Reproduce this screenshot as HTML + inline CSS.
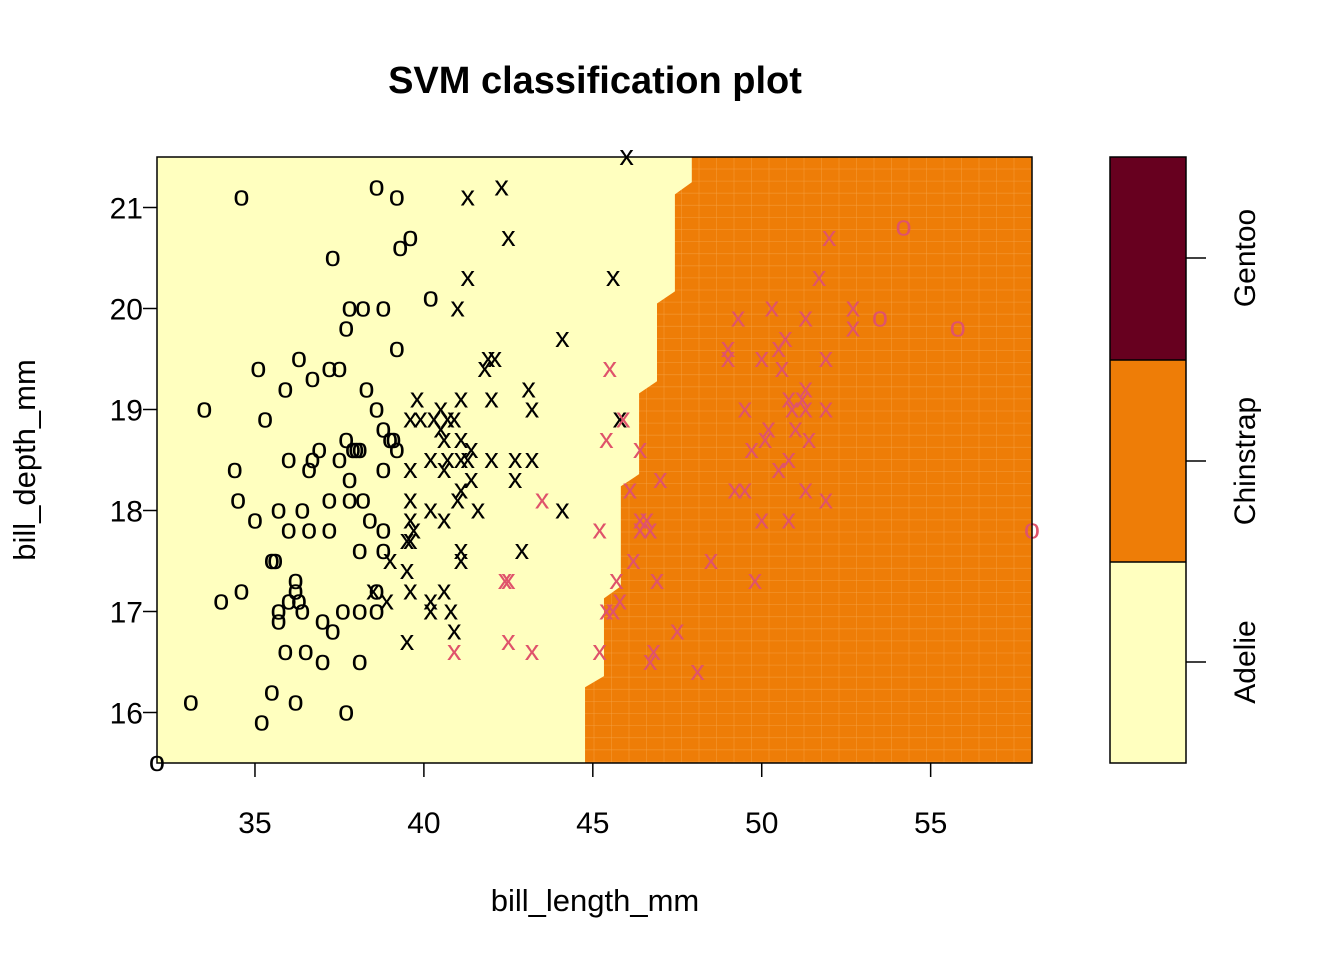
<!DOCTYPE html>
<html><head><meta charset="utf-8"><style>
body{margin:0;background:#fff}
svg{display:block;font-family:"Liberation Sans",Arial,sans-serif}
</style></head><body>
<svg id="chart" width="1344" height="960" viewBox="0 0 1344 960" xmlns="http://www.w3.org/2000/svg">
<text x="595" y="93" text-anchor="middle" font-size="38" font-weight="bold">SVM classification plot</text>
<g id="plot"></g>
<text x="595" y="911" text-anchor="middle" font-size="31">bill_length_mm</text>
<text transform="translate(35,460) rotate(-90)" text-anchor="middle" font-size="31">bill_depth_mm</text>
<g>
<rect x="1110" y="157" width="76" height="203" fill="#67001F"/>
<rect x="1110" y="360" width="76" height="202" fill="#EE7D07"/>
<rect x="1110" y="562" width="76" height="201" fill="#FFFFBF"/>
<rect x="1110" y="157" width="76" height="606" fill="none" stroke="#000" stroke-width="1.5"/>
<line x1="1110" y1="360" x2="1186" y2="360" stroke="#000" stroke-width="1.5"/>
<line x1="1110" y1="562" x2="1186" y2="562" stroke="#000" stroke-width="1.5"/>
<g stroke="#000" stroke-width="1.5"><line x1="1186" y1="258" x2="1206" y2="258"/><line x1="1186" y1="461" x2="1206" y2="461"/><line x1="1186" y1="662" x2="1206" y2="662"/></g>
<g font-size="30" text-anchor="middle">
<text transform="translate(1255,258) rotate(-90)">Gentoo</text>
<text transform="translate(1255,461) rotate(-90)">Chinstrap</text>
<text transform="translate(1255,662) rotate(-90)">Adelie</text>
</g></g>
</svg>
<script>
const xTicks=[35,40,45,50,55];
const yTicks=[16,17,18,19,20,21];
// decision boundary (Adelie | Chinstrap), top to bottom
const boundaryY=[21.5,21.25,21.13,20.17,20.05,19.28,19.16,18.36,18.24,17.25,17.13,16.36,16.25,15.5];
const boundaryX=[47.93,47.93,47.43,47.43,46.9,46.9,46.37,46.37,45.83,45.83,45.33,45.33,44.77,44.77];
const adelieOX=[34.6,38.6,39.2,39.6,39.3,37.3,40.2,37.8,38.2,38.8,37.7,39.2,36.3,35.1,37.5,35.9,36.7,37.2,38.3,33.5,35.3,38.6,38.8,39.0,39.1,37.7,36.9,37.9,38.0,38.1,37.5,39.2,36.7,36.0,34.4,36.6,38.8,37.8,34.5,37.2,37.8,38.2,35.7,36.4,35.0,36.0,36.6,37.2,38.4,38.8,38.1,38.8,35.5,35.6,36.2,36.2,34.6,34.0,36.0,36.3,35.7,35.7,36.4,37.0,37.6,38.1,38.6,37.3,35.9,36.5,37.0,38.1,35.5,36.2,33.1,37.7,35.2,32.1,38.6];
const adelieOY=[21.1,21.2,21.1,20.7,20.6,20.5,20.1,20.0,20.0,20.0,19.8,19.6,19.5,19.4,19.4,19.2,19.3,19.4,19.2,19.0,18.9,19.0,18.8,18.7,18.7,18.7,18.6,18.6,18.6,18.6,18.5,18.6,18.5,18.5,18.4,18.4,18.4,18.3,18.1,18.1,18.1,18.1,18.0,18.0,17.9,17.8,17.8,17.8,17.9,17.8,17.6,17.6,17.5,17.5,17.3,17.2,17.2,17.1,17.1,17.1,17.0,16.9,17.0,16.9,17.0,17.0,17.0,16.8,16.6,16.6,16.5,16.5,16.2,16.1,16.1,16.0,15.9,15.5,17.2];
const adelieXX=[46.0,42.3,41.3,42.5,41.3,45.6,41.0,44.1,42.1,41.9,41.8,39.8,41.1,43.1,42.0,43.2,39.6,39.9,40.3,40.5,40.7,40.9,40.5,40.6,41.1,41.4,40.2,40.7,41.1,41.3,42.0,42.7,43.2,39.6,40.6,41.4,42.7,39.6,41.1,41.0,40.2,44.1,41.6,39.6,40.6,39.7,39.5,39.6,42.9,41.1,41.1,39.0,39.5,38.5,38.9,40.6,40.2,39.6,40.2,40.8,40.9,39.5,45.8];
const adelieXY=[21.5,21.2,21.1,20.7,20.3,20.3,20.0,19.7,19.5,19.5,19.4,19.1,19.1,19.2,19.1,19.0,18.9,18.9,18.9,19.0,18.9,18.9,18.8,18.7,18.7,18.6,18.5,18.5,18.5,18.5,18.5,18.5,18.5,18.4,18.4,18.3,18.3,18.1,18.2,18.1,18.0,18.0,18.0,17.9,17.9,17.8,17.7,17.7,17.6,17.6,17.5,17.5,17.4,17.2,17.1,17.2,17.1,17.2,17.0,17.0,16.8,16.7,18.9];
const chinXX=[45.5,45.4,45.9,46.4,43.5,46.1,45.2,46.4,46.6,46.7,46.4,46.2,45.7,45.4,45.6,45.8,46.9,48.5,49.8,47.5,46.8,46.7,48.1,45.2,43.2,42.5,40.9,42.4,42.5,52.0,51.7,50.3,51.3,52.7,52.7,49.3,49.0,49.0,50.0,50.5,50.7,51.9,50.6,51.3,51.2,50.8,50.9,49.5,51.3,51.9,50.2,51.0,50.1,51.4,49.7,50.8,50.5,49.2,49.5,51.3,51.9,50.0,50.8,47.0];
const chinXY=[19.4,18.7,18.9,18.6,18.1,18.2,17.8,17.9,17.9,17.8,17.8,17.5,17.3,17.0,17.0,17.1,17.3,17.5,17.3,16.8,16.6,16.5,16.4,16.6,16.6,16.7,16.6,17.3,17.3,20.7,20.3,20.0,19.9,20.0,19.8,19.9,19.6,19.5,19.5,19.6,19.7,19.5,19.4,19.2,19.1,19.1,19.0,19.0,19.0,19.0,18.8,18.8,18.7,18.7,18.6,18.5,18.4,18.2,18.2,18.2,18.1,17.9,17.9,18.3];
const chinOX=[54.2,53.5,55.8,58.0];
const chinOY=[20.8,19.9,19.8,17.8];

const NS='http://www.w3.org/2000/svg';
const L=157,R=1032,T=157,B=763,xMin=32.1,xMax=58.0,yMin=15.5,yMax=21.5;
const sx=v=>L+(v-xMin)/(xMax-xMin)*(R-L);
const sy=v=>B-(v-yMin)/(yMax-yMin)*(B-T);
const g=document.getElementById('plot');
function mk(t,a){const e=document.createElementNS(NS,t);for(const k in a)e.setAttribute(k,a[k]);g.appendChild(e);return e;}

const bg=mk('rect',{x:L,y:T,width:R-L,height:B-T,fill:'#EE7D07'});


for(let x=L+17;x<R;x+=17.5){mk('line',{x1:x,y1:T,x2:x,y2:B,stroke:'#F6A54A','stroke-width':0.8,opacity:0.5});}
for(let y=T+12;y<B;y+=12.1){mk('line',{x1:L,y1:y,x2:R,y2:y,stroke:'#F6A54A','stroke-width':0.8,opacity:0.5});}
let pts=`${L},${T} `+boundaryY.map((y,i)=>`${sx(boundaryX[i])},${sy(y)}`).join(' ')+` ${L},${B}`;
const ad=mk('polygon',{points:pts,fill:'#FFFFBF'});



function sym(xs,ys,ch,col,name){xs.forEach((v,i)=>{const t=mk('text',{x:sx(v),y:sy(ys[i])+8,'text-anchor':'middle','font-size':29,fill:col});t.textContent=ch;

});}
sym(adelieOX,adelieOY,'o','#000','adelie-point');
sym(adelieXX,adelieXY,'x','#000','adelie-support-vector');
sym(chinXX,chinXY,'x','#DF536B','chinstrap-support-vector');
sym(chinOX,chinOY,'o','#DF536B','chinstrap-point');

mk('rect',{x:L,y:T,width:R-L,height:B-T,fill:'none',stroke:'#000','stroke-width':1.5});
xTicks.forEach(v=>{mk('line',{x1:sx(v),y1:B,x2:sx(v),y2:B+14,stroke:'#000','stroke-width':1.5});
const t=mk('text',{x:sx(v),y:B+70,'text-anchor':'middle','font-size':30});t.textContent=v;

});
yTicks.forEach(v=>{mk('line',{x1:L,y1:sy(v),x2:L-14,y2:sy(v),stroke:'#000','stroke-width':1.5});
const t=mk('text',{x:L-14,y:sy(v)+11,'text-anchor':'end','font-size':30});t.textContent=v;

});
</script>
</body></html>
